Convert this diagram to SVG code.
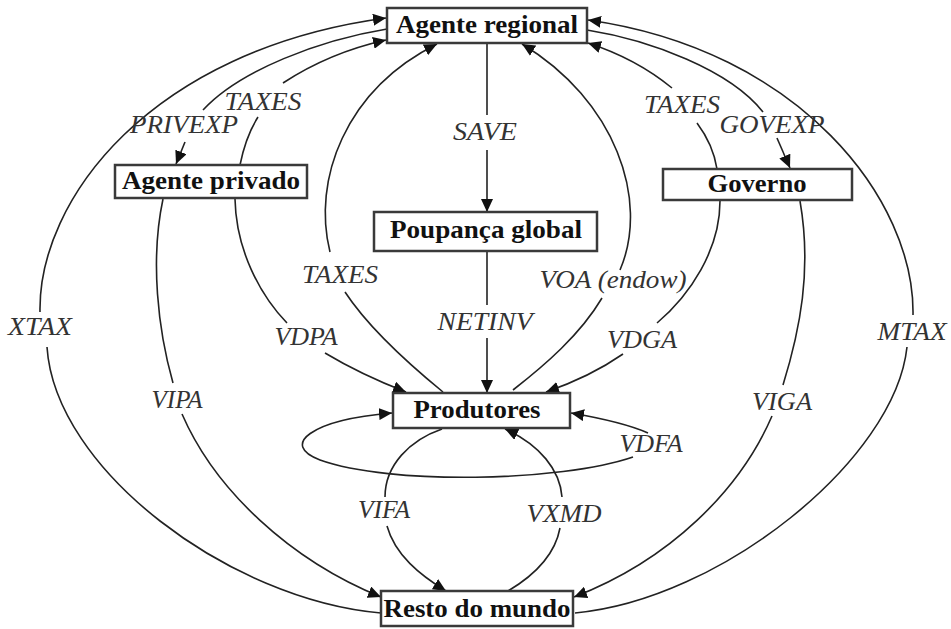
<svg xmlns="http://www.w3.org/2000/svg" width="951" height="629" viewBox="0 0 951 629">
<style>
.box{fill:#fff;stroke:#3a3a3a;stroke-width:2.5}
.bt{font-family:"Liberation Serif","Times New Roman",serif;font-weight:bold;font-size:26px;fill:#111;text-anchor:middle}
.lt{font-family:"Liberation Serif","Times New Roman",serif;font-style:italic;font-size:26px;fill:#333;text-anchor:middle}
.c{fill:none;stroke:#222;stroke-width:1.6}
</style>
<defs>
<marker id="ah" markerUnits="userSpaceOnUse" markerWidth="14" markerHeight="12" refX="13" refY="6" orient="auto">
<path d="M0,0 L13,6 L0,12 z" fill="#111"/>
</marker>
</defs>
<g id="connectors">
<!-- XTAX -->
<path class="c" d="M381,613 C230,600 55,470 47,347"/>
<path class="c" d="M40,312 C38,200 150,50 386,18" marker-end="url(#ah)"/>
<!-- MTAX -->
<path class="c" d="M575,613 C720,600 895,460 907,347"/>
<path class="c" d="M913,315 C915,200 800,50 588,20" marker-end="url(#ah)"/>
<!-- PRIVEXP -->
<path class="c" d="M387,29 C320,40 240,70 203,110"/>
<path class="c" d="M185,142 L176,164" marker-end="url(#ah)"/>
<!-- TAXES privado -->
<path class="c" d="M240,165 C244,145 251,128 258,117"/>
<path class="c" d="M283,83 C315,62 350,48 386,40" marker-end="url(#ah)"/>
<!-- GOVEXP -->
<path class="c" d="M587,30 C650,40 730,70 763,112"/>
<path class="c" d="M777,138 L790,168" marker-end="url(#ah)"/>
<!-- TAXES governo -->
<path class="c" d="M717,169 C714,150 706,135 697,123"/>
<path class="c" d="M672,88 C650,70 625,55 588,43" marker-end="url(#ah)"/>
<!-- SAVE -->
<path class="c" d="M487,44 L487,115"/>
<path class="c" d="M487,150 L487,212" marker-end="url(#ah)"/>
<!-- NETINV -->
<path class="c" d="M487,252 L487,305"/>
<path class="c" d="M487,338 L487,393" marker-end="url(#ah)"/>
<!-- TAXES produtores -->
<path class="c" d="M443,392 C410,365 370,330 345,292"/>
<path class="c" d="M330,252 C312,180 345,90 437,44" marker-end="url(#ah)"/>
<!-- VOA -->
<path class="c" d="M513,390 C545,365 580,335 602,298"/>
<path class="c" d="M620,270 C650,200 615,100 522,44" marker-end="url(#ah)"/>
<!-- VDPA -->
<path class="c" d="M235,199 C236,250 260,295 287,323"/>
<path class="c" d="M325,353 C350,368 375,380 406,392" marker-end="url(#ah)"/>
<!-- VDGA -->
<path class="c" d="M720,201 C720,250 690,295 657,323"/>
<path class="c" d="M623,354 C600,370 575,382 546,392" marker-end="url(#ah)"/>
<!-- VIPA -->
<path class="c" d="M163,199 C150,260 158,330 173,383"/>
<path class="c" d="M182,414 C215,490 290,560 381,597" marker-end="url(#ah)"/>
<!-- VIGA -->
<path class="c" d="M800,201 C812,270 800,330 783,385"/>
<path class="c" d="M772,416 C740,490 670,560 574,597" marker-end="url(#ah)"/>
<!-- VDFA -->
<path class="c" d="M648,433 C630,425 600,418 571,413" marker-end="url(#ah)"/>
<path class="c" d="M633,457 C560,482 390,485 320,460 C280,445 310,420 392,413" marker-end="url(#ah)"/>
<!-- VIFA -->
<path class="c" d="M442,429 C410,440 385,465 385,497"/>
<path class="c" d="M387,526 C395,555 420,575 446,591" marker-end="url(#ah)"/>
<!-- VXMD -->
<path class="c" d="M508,591 C535,575 555,555 560,528"/>
<path class="c" d="M562,497 C560,470 540,445 505,429" marker-end="url(#ah)"/>
</g>
<g id="labels">
<text class="lt" x="263" y="110" textLength="77" lengthAdjust="spacingAndGlyphs">TAXES</text>
<text class="lt" x="184" y="133" textLength="108" lengthAdjust="spacingAndGlyphs">PRIVEXP</text>
<text class="lt" x="682" y="113" textLength="76" lengthAdjust="spacingAndGlyphs">TAXES</text>
<text class="lt" x="772" y="133" textLength="105" lengthAdjust="spacingAndGlyphs">GOVEXP</text>
<text class="lt" x="485" y="140" textLength="64" lengthAdjust="spacingAndGlyphs">SAVE</text>
<text class="lt" x="340" y="283" textLength="76" lengthAdjust="spacingAndGlyphs">TAXES</text>
<text class="lt" x="613" y="288" textLength="147" lengthAdjust="spacingAndGlyphs">VOA (endow)</text>
<text class="lt" x="485" y="330" textLength="95" lengthAdjust="spacingAndGlyphs">NETINV</text>
<text class="lt" x="306" y="345" textLength="63" lengthAdjust="spacingAndGlyphs">VDPA</text>
<text class="lt" x="642" y="348" textLength="70" lengthAdjust="spacingAndGlyphs">VDGA</text>
<text class="lt" x="40" y="335" textLength="64" lengthAdjust="spacingAndGlyphs">XTAX</text>
<text class="lt" x="177" y="408" textLength="51" lengthAdjust="spacingAndGlyphs">VIPA</text>
<text class="lt" x="912" y="340" textLength="69" lengthAdjust="spacingAndGlyphs">MTAX</text>
<text class="lt" x="782" y="410" textLength="60" lengthAdjust="spacingAndGlyphs">VIGA</text>
<text class="lt" x="651" y="452" textLength="63" lengthAdjust="spacingAndGlyphs">VDFA</text>
<text class="lt" x="384" y="518" textLength="52" lengthAdjust="spacingAndGlyphs">VIFA</text>
<text class="lt" x="564" y="522" textLength="75" lengthAdjust="spacingAndGlyphs">VXMD</text>
</g>
<g id="agente-regional">
<rect class="box" x="387" y="8" width="200" height="35"/>
<text class="bt" x="487" y="33" textLength="182" lengthAdjust="spacingAndGlyphs">Agente regional</text>
</g>
<g id="agente-privado">
<rect class="box" x="115" y="165" width="192" height="33"/>
<text class="bt" x="211" y="189" textLength="178" lengthAdjust="spacingAndGlyphs">Agente privado</text>
</g>
<g id="governo">
<rect class="box" x="663" y="169" width="189" height="31"/>
<text class="bt" x="757" y="192" textLength="99" lengthAdjust="spacingAndGlyphs">Governo</text>
</g>
<g id="poupanca-global">
<rect class="box" x="374" y="212" width="223" height="39"/>
<text class="bt" x="486" y="238" textLength="192" lengthAdjust="spacingAndGlyphs">Poupança global</text>
</g>
<g id="produtores">
<rect class="box" x="393" y="393" width="177" height="35"/>
<text class="bt" x="477" y="418" textLength="127" lengthAdjust="spacingAndGlyphs">Produtores</text>
</g>
<g id="resto-do-mundo">
<rect class="box" x="381" y="591" width="192" height="35"/>
<text class="bt" x="477" y="617" textLength="187" lengthAdjust="spacingAndGlyphs">Resto do mundo</text>
</g>
</svg>
